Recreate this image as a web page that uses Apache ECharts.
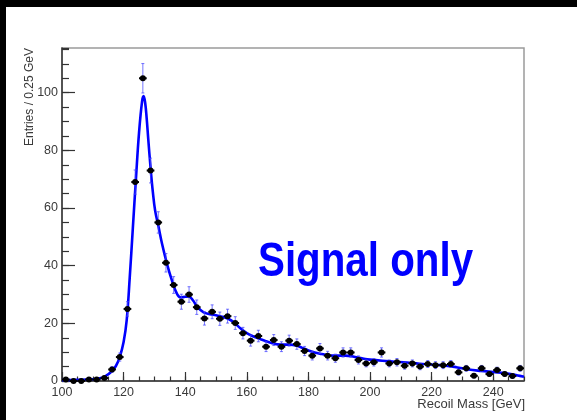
<!DOCTYPE html>
<html>
<head>
<meta charset="utf-8">
<script src="https://cdn.jsdelivr.net/npm/echarts@6/dist/echarts.min.js"></script>
<style>
html,body{margin:0;padding:0;background:#000;width:577px;height:420px;overflow:hidden;}
#panel{position:absolute;left:6px;top:7px;width:571px;height:413px;background:#fff;}
</style>
</head>
<body>
<div id="panel"></div>
<script>
// Bin centres (GeV), 2.5 GeV bins from 100 to 250
const binCenters = [101.25,103.75,106.25,108.75,111.25,113.75,116.25,118.75,121.25,123.75,
  126.25,128.75,131.25,133.75,136.25,138.75,141.25,143.75,146.25,148.75,
  151.25,153.75,156.25,158.75,161.25,163.75,166.25,168.75,171.25,173.75,
  176.25,178.75,181.25,183.75,186.25,188.75,191.25,193.75,196.25,198.75,
  201.25,203.75,206.25,208.75,211.25,213.75,216.25,218.75,221.25,223.75,
  226.25,228.75,231.25,233.75,236.25,238.75,241.25,243.75,246.25,248.75];
const entries = [0.5,0,0,0.5,0.5,1,4,8.3,25,69,
  105,73,55,41,33.3,27.5,30,25.6,21.7,24,
  21.6,22.5,20.1,16.6,14,15.6,11.9,14.2,11.9,14,
  12.8,10.4,8.8,11.3,8.8,7.9,9.9,9.9,7.3,6.1,
  6.5,9.9,6.1,6.5,5.3,6.1,5.0,5.9,5.5,5.5,
  5.9,3.0,4.4,1.8,4.4,2.4,3.8,2.4,1.7,4.4];
const errors = [0.4,0.3,0.3,0.4,0.4,0.5,1.0,1.4,2.5,4.2,
  5.1,4.3,3.7,3.2,2.9,2.6,2.7,2.5,2.3,2.4,
  2.3,2.4,2.2,2.0,1.9,2.0,1.7,1.9,1.7,1.9,
  1.8,1.6,1.5,1.7,1.5,1.4,1.6,1.6,1.4,1.2,
  1.3,1.6,1.2,1.3,1.2,1.2,1.1,1.2,1.2,1.2,
  1.2,0.9,1.0,0.7,1.0,0.8,1.0,0.8,0.7,1.0];
// Fit curve
const fitX = [100,105,110,112,114,116,117.5,118.75,120,121,122,123,124,125,126,126.5,127,127.5,128,128.75,
  129.5,130.25,131.25,132.5,134,135.5,137,138.5,140,141.2,142.5,144,146,148,150,152,154,156,158,160,
  162,164,166,168,170,172,174,176,178,180,182,184,186,188,190,192,194,196,198,200,
  204,208,212,216,220,224,228,232,236,240,244,248,250];
const fitY = [0.3,0.4,0.6,0.9,1.6,3.2,5.2,8.3,13.5,21,36,53,70,86,97,98.8,96.5,91,84,74,
  65.5,59,54,47.5,41,35.5,31,29,29.2,29.3,28,25.6,23.8,23.2,22.8,22.3,21.6,20.2,18.2,16.6,
  15.5,14.7,13.9,13.2,12.7,12.6,12.6,12.3,11.5,10.6,9.9,9.4,9.0,8.8,8.8,8.8,8.6,8.1,7.7,7.4,
  7.0,6.7,6.4,6.0,5.7,5.4,4.8,4.0,3.5,3.1,2.7,1.9,1.5];
const xTitle = 'Recoil Mass [GeV]';
const yTitle = 'Entries / 0.25 GeV';
const label = 'Signal only';

const chart = echarts.init(document.getElementById('panel'), null, {renderer:'canvas'});
const font = 'Liberation Sans, Arial, Helvetica, sans-serif';
const pts = binCenters.map((x,i)=>[x, entries[i], errors[i]]);
const curve = fitX.map((x,i)=>[x, fitY[i]]);

chart.setOption({
  animation:false,
  backgroundColor:'#fff',
  textStyle:{fontFamily:font},
  grid:{left:56, top:41, right:53, bottom:39, containLabel:false, outerBoundsMode:'none',
    show:true, borderColor:'#9a9a9a', borderWidth:1.5, backgroundColor:'transparent'},
  xAxis:[{
    type:'value', min:100, max:250, interval:20, position:'bottom',
    axisLine:{show:true, onZero:false, lineStyle:{color:'#333', width:1.5}},
    axisTick:{show:true, inside:true, length:9, lineStyle:{color:'#333', width:1.2}},
    axisLabel:{show:true, showMaxLabel:false, margin:5, color:'#3a3a3a', fontSize:12.5, fontFamily:font},
    splitLine:{show:false}
  },{
    type:'value', min:100, max:250, interval:5, position:'bottom',
    axisLine:{show:false}, axisLabel:{show:false}, splitLine:{show:false},
    axisTick:{show:true, inside:true, length:4.5, lineStyle:{color:'#333', width:1.2}}
  }],
  yAxis:[{
    type:'value', min:0, max:115.5, interval:20, position:'left',
    axisLine:{show:true, onZero:false, lineStyle:{color:'#333', width:1.5}},
    axisTick:{show:true, inside:true, length:13, lineStyle:{color:'#333', width:1.2}},
    axisLabel:{show:true, showMaxLabel:false, margin:4, color:'#3a3a3a', fontSize:12.5, fontFamily:font},
    splitLine:{show:false}
  },{
    type:'value', min:0, max:115.5, interval:5, position:'left',
    axisLine:{show:false}, axisLabel:{show:false}, splitLine:{show:false},
    axisTick:{show:true, inside:true, length:7, lineStyle:{color:'#333', width:1.2}}
  }],
  graphic:[{
    type:'text', x:252, y:256, scaleX:0.84, z:10,
    style:{text:label, fill:'#0000ff', font:'bold 48px Liberation Sans, Arial, sans-serif', textAlign:'left', textVerticalAlign:'middle', verticalAlign:'middle'}
  },{
    type:'text', x:519, y:397, z:10,
    style:{text:xTitle, fill:'#3a3a3a', font:'13px Liberation Sans, Arial, sans-serif', textAlign:'right', textVerticalAlign:'middle', verticalAlign:'middle'}
  },{
    type:'text', x:24, y:41, rotation:Math.PI/2, z:10,
    style:{text:yTitle, fill:'#3a3a3a', font:'12px Liberation Sans, Arial, sans-serif', textAlign:'right', textVerticalAlign:'middle', verticalAlign:'middle'}
  }],
  series:[{
    type:'line', xAxisIndex:0, yAxisIndex:0, data:curve, smooth:0.4, symbol:'none', z:2,
    lineStyle:{color:'#0000ff', width:2.6}
  },{
    type:'custom', xAxisIndex:0, yAxisIndex:0, data:pts, z:3,
    renderItem:function(params, api){
      const x = api.value(0), y = api.value(1), e = api.value(2);
      const c = api.coord([x, y]);
      const t = api.coord([x, y + e]);
      const b = api.coord([x, Math.max(0, y - e)]);
      const l = api.coord([x - 1.25, y]);
      const r = api.coord([x + 1.25, y]);
      const eb = 'rgba(70,70,255,0.75)';
      return {type:'group', children:[
        {type:'line', shape:{x1:c[0], y1:t[1], x2:c[0], y2:b[1]}, style:{stroke:eb, lineWidth:1}},
        {type:'line', shape:{x1:c[0]-1.5, y1:t[1], x2:c[0]+1.5, y2:t[1]}, style:{stroke:eb, lineWidth:1}},
        {type:'line', shape:{x1:c[0]-1.5, y1:b[1], x2:c[0]+1.5, y2:b[1]}, style:{stroke:eb, lineWidth:1}},
        {type:'line', shape:{x1:l[0], y1:c[1], x2:r[0], y2:c[1]}, style:{stroke:'#000', lineWidth:2}},
        {type:'circle', shape:{cx:c[0], cy:c[1], r:3}, style:{fill:'#000'}}
      ]};
    }
  }]
});
</script>
</body>
</html>
